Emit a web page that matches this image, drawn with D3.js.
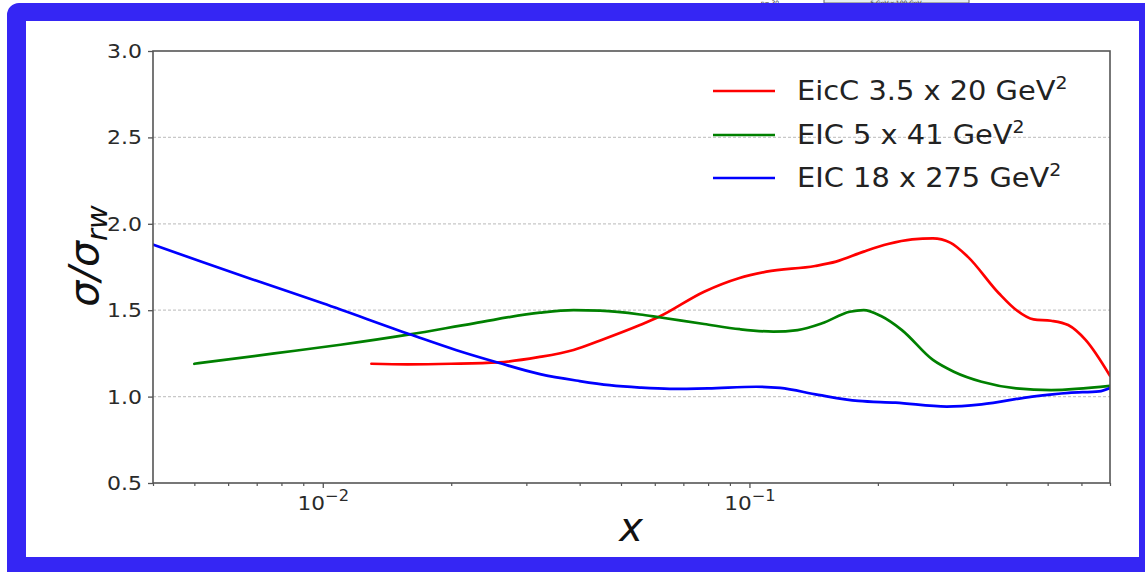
<!DOCTYPE html>
<html>
<head>
<meta charset="utf-8">
<script src="https://cdn.jsdelivr.net/npm/d3@7/dist/d3.min.js"></script>
<style>
  html, body { margin: 0; padding: 0; background: #fff; }
  svg { display: block; }
  text { font-family: "DejaVu Sans", sans-serif; }
</style>
</head>
<body>
<svg id="chart" width="1145" height="572"></svg>
<script>
// Ratio sigma / sigma_rw versus Bjorken x for three collider configurations
const seriesNames = ["EicC 3.5 x 20 GeV", "EIC 5 x 41 GeV", "EIC 18 x 275 GeV"];
const seriesColors = ["#ff0000", "#008000", "#0000ff"];

const eiccX = [0.013, 0.0158, 0.02, 0.0258, 0.032, 0.0387, 0.0447, 0.0554, 0.0614, 0.0783, 0.0944, 0.1096, 0.1426, 0.1596, 0.1853, 0.2112, 0.2406, 0.2692, 0.2955, 0.3247, 0.3842, 0.4221, 0.4634, 0.5094, 0.5585, 0.6135, 0.7];
const eiccY = [1.19, 1.187, 1.19, 1.198, 1.228, 1.27, 1.325, 1.414, 1.462, 1.607, 1.685, 1.723, 1.756, 1.781, 1.839, 1.883, 1.91, 1.916, 1.891, 1.81, 1.598, 1.501, 1.447, 1.439, 1.414, 1.328, 1.12];

const eic41X = [0.005, 0.0077, 0.011, 0.016, 0.0226, 0.0323, 0.0387, 0.0447, 0.0554, 0.0614, 0.0783, 0.095, 0.1138, 0.1297, 0.148, 0.1718, 0.1853, 0.2034, 0.2277, 0.2692, 0.3013, 0.35, 0.4221, 0.5094, 0.7];
const eic41Y = [1.19, 1.25, 1.30, 1.36, 1.424, 1.486, 1.50, 1.497, 1.475, 1.459, 1.42, 1.39, 1.376, 1.385, 1.424, 1.491, 1.501, 1.466, 1.385, 1.212, 1.144, 1.086, 1.048, 1.038, 1.062];

const eic275X = [0.004, 0.0052, 0.007, 0.01, 0.0162, 0.0205, 0.0258, 0.0323, 0.04, 0.047, 0.0554, 0.065, 0.08, 0.1037, 0.118, 0.145, 0.18, 0.22, 0.29, 0.35, 0.46, 0.56, 0.66, 0.7];
const eic275Y = [1.88, 1.78, 1.67, 1.54, 1.356, 1.27, 1.196, 1.13, 1.09, 1.066, 1.052, 1.045, 1.048, 1.057, 1.05, 1.01, 0.975, 0.965, 0.942, 0.955, 1.0, 1.022, 1.03, 1.05];

const yTicks = [0.5, 1.0, 1.5, 2.0, 2.5, 3.0];
const yGrid = [1.0, 1.5, 2.0, 2.5];
const xMajor = [0.01, 0.1];
const xMajorExp = ["\u22122", "\u22121"];
const xMinor = [0.004, 0.005, 0.006, 0.007, 0.008, 0.009, 0.02, 0.03, 0.04, 0.05, 0.06, 0.07, 0.08, 0.09, 0.2, 0.3, 0.4, 0.5, 0.6, 0.7];

const series = [
  { name: seriesNames[0], color: seriesColors[0], xs: eiccX, ys: eiccY },
  { name: seriesNames[1], color: seriesColors[1], xs: eic41X, ys: eic41Y },
  { name: seriesNames[2], color: seriesColors[2], xs: eic275X, ys: eic275Y }
];

const svg = d3.select("#chart");
const W = 1145, H = 572;
const plot = { left: 153, right: 1110, top: 51, bottom: 483 };

const x = d3.scaleLog().domain([0.004, 0.7]).range([plot.left, plot.right]);
const y = d3.scaleLinear().domain([0.5, 3.0]).range([plot.bottom, plot.top]);

svg.append("rect").attr("width", W).attr("height", H).attr("fill", "#fff");

// caption strip peeking above the frame
const cap = svg.append("g");
cap.append("rect").attr("x", 824).attr("y", -8).attr("width", 145).attr("height", 11)
  .attr("fill", "#e6eeee").attr("stroke", "#666").attr("stroke-width", 1);
cap.append("text").attr("x", 896).attr("y", 5).attr("text-anchor", "middle")
  .attr("font-size", 6).attr("fill", "#333").text("5 GeV x 100 GeV");
cap.append("text").attr("x", 770).attr("y", 5).attr("text-anchor", "middle")
  .attr("font-size", 6).attr("fill", "#222").text("\u03b7= 30");

// grid
svg.append("g").selectAll("line").data(yGrid).join("line")
  .attr("x1", plot.left).attr("x2", plot.right)
  .attr("y1", d => y(d)).attr("y2", d => y(d))
  .attr("stroke", "#c8c8c8").attr("stroke-width", 1.2).attr("stroke-dasharray", "3,2");

// curves
svg.append("clipPath").attr("id", "plotClip").append("rect")
  .attr("x", plot.left).attr("y", plot.top)
  .attr("width", plot.right - plot.left).attr("height", plot.bottom - plot.top);

const line = d3.line().x(d => x(d[0])).y(d => y(d[1])).curve(d3.curveMonotoneX);
svg.append("g").attr("clip-path", "url(#plotClip)")
  .selectAll("path").data(series).join("path")
  .attr("d", s => line(s.xs.map((v, i) => [v, s.ys[i]])))
  .attr("fill", "none").attr("stroke", s => s.color)
  .attr("stroke-width", 2.7).attr("stroke-linejoin", "round").attr("stroke-linecap", "round");

// y axis
const yAxis = svg.append("g").attr("transform", `translate(${plot.left},0)`)
  .call(d3.axisLeft(y).tickValues(yTicks).tickFormat(d3.format(".1f")).tickSize(5).tickPadding(6));
yAxis.select(".domain").remove();
yAxis.selectAll(".tick line").attr("stroke", "#555").attr("stroke-width", 1.3);
yAxis.selectAll(".tick text").attr("font-size", 20).attr("fill", "#2a2a2a")
  .attr("font-family", "DejaVu Sans, sans-serif")
  .attr("transform", function () {
    const xx = +d3.select(this).attr("x");
    return `translate(${xx},0) scale(1.1,1) translate(${-xx},0)`;
  });

// x axis: minor ticks
const xAxisMinor = svg.append("g").attr("transform", `translate(0,${plot.bottom})`)
  .call(d3.axisBottom(x).tickValues(xMinor).tickFormat("").tickSize(3));
xAxisMinor.select(".domain").remove();
xAxisMinor.selectAll(".tick line").attr("stroke", "#555").attr("stroke-width", 1.2);

// x axis: major ticks with power-of-ten labels
const xAxisMajor = svg.append("g").attr("transform", `translate(0,${plot.bottom})`)
  .call(d3.axisBottom(x).tickValues(xMajor).tickFormat("").tickSize(5));
xAxisMajor.select(".domain").remove();
xAxisMajor.selectAll(".tick line").attr("stroke", "#555").attr("stroke-width", 1.3);
xAxisMajor.selectAll(".tick").each(function (d, i) {
  const t = d3.select(this).append("text")
    .attr("y", 27).attr("fill", "#2a2a2a").attr("font-size", 20)
    .attr("text-anchor", "middle").attr("font-family", "DejaVu Sans, sans-serif")
    .attr("transform", "scale(1.08,1)");
  t.append("tspan").text("10");
  t.append("tspan").attr("dy", -9).attr("font-size", 15).text(xMajorExp[i]);
});

// frame
svg.append("rect").attr("x", plot.left).attr("y", plot.top)
  .attr("width", plot.right - plot.left).attr("height", plot.bottom - plot.top)
  .attr("fill", "none").attr("stroke", "#555").attr("stroke-width", 1.6);

// axis titles
svg.append("text").attr("x", 631).attr("y", 541).attr("text-anchor", "middle")
  .attr("font-size", 40).attr("font-style", "italic").attr("fill", "#111").text("x");

const yt = svg.append("text")
  .attr("transform", "translate(98,256) rotate(-90)")
  .attr("text-anchor", "middle").attr("font-size", 41).attr("fill", "#111");
yt.append("tspan").attr("font-style", "italic").text("\u03c3/\u03c3");
yt.append("tspan").attr("font-style", "italic").attr("font-size", 29).attr("dy", 9).text("rw");

// legend
const legendY = [91, 135, 178];
const lg = svg.append("g");
series.forEach((s, i) => {
  lg.append("line").attr("x1", 713).attr("x2", 775)
    .attr("y1", legendY[i]).attr("y2", legendY[i])
    .attr("stroke", s.color).attr("stroke-width", 2.7);
  const t = lg.append("text").attr("x", 0).attr("y", 0)
    .attr("transform", `translate(797,${legendY[i] + 9}) scale(1.11,1)`)
    .attr("font-size", 26).attr("fill", "#222");
  t.append("tspan").text(s.name);
  t.append("tspan").attr("dy", -11).attr("font-size", 17).text("2");
});

// blue outer border
const fr = d3.path();
const ox = 7, oy = 3, ow = 1170, oh = 600, r = 12;
fr.moveTo(ox + r, oy);
fr.lineTo(ox + ow - r, oy);
fr.arcTo(ox + ow, oy, ox + ow, oy + r, r);
fr.lineTo(ox + ow, oy + oh);
fr.lineTo(ox, oy + oh);
fr.lineTo(ox, oy + r);
fr.arcTo(ox, oy, ox + r, oy, r);
fr.closePath();
fr.moveTo(26, 21);
fr.lineTo(26, 557);
fr.lineTo(1139, 557);
fr.lineTo(1139, 21);
fr.closePath();
svg.append("path").attr("d", fr.toString()).attr("fill", "#3526f4").attr("fill-rule", "evenodd");
</script>
</body>
</html>
